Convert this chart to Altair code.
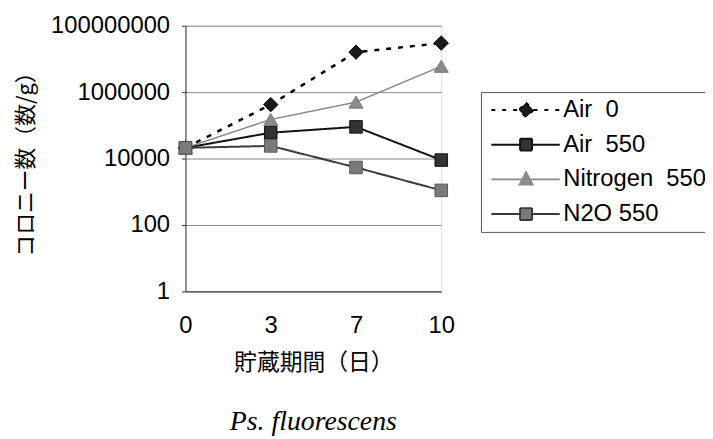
import altair as alt
import pandas as pd

# ---- data ----
days = ["0", "3", "7", "10"]
series = ["Air\u00a0\u00a00", "Air\u00a0\u00a0550", "Nitrogen\u00a0\u00a0550", "N2O 550"]
air0 = [21000, 420000, 16000000, 30000000]
air550 = [21000, 60000, 90000, 9000]
nitrogen550 = [21000, 150000, 500000, 6000000]
n2o550 = [21000, 24000, 5400, 1100]
y_ticks = [1, 100, 10000, 1000000, 100000000]

rows = []
for name, vals in zip(series, [air0, air550, nitrogen550, n2o550]):
    for d, v in zip(days, vals):
        rows.append({"day": d, "count": v, "series": name})
df = pd.DataFrame(rows)

# ---- styles ----
line_colors = ["#000000", "#111111", "#8a8a8a", "#3a3a3a"]
fill_colors = ["#1a1a1a", "#333333", "#8a8a8a", "#7a7a7a"]
marker_strokes = ["#000000", "#111111", "#7a7a7a", "#555555"]
chart_dashes = [[5, 7], [1, 0], [1, 0], [1, 0]]
legend_dashes = [[4, 7], [1, 0], [1, 0], [1, 0]]
line_widths = [2.5, 2, 1.5, 2]
shapes = ["diamond", "square", "triangle-up", "square"]
marker_sizes = [210, 160, 200, 160]
# legend symbols: line + marker, drawn in symbol units (1 unit = 7.5 px)
legend_paths = [
    "M-1,0H2.67M4.67,0H8.2M3.67,-1L4.67,0L3.67,1L2.67,0Z",
    "M-1,0H2.87M4.47,0H8.2M2.87,-0.8H4.47V0.8H2.87Z",
    "M-1,0H3.17M4.17,0H8.2M3.67,-0.95L4.54,0.7H2.8Z",
    "M-1,0H2.87M4.47,0H8.2M2.87,-0.8H4.47V0.8H2.87Z",
]

LATIN = "Liberation Sans"
CJK = "Noto Sans CJK JP"

x_enc = alt.X(
    "day:O",
    sort=days,
    scale=alt.Scale(type="point", padding=0),
    title="貯蔵期間（日）",
    axis=alt.Axis(
        labelAngle=0,
        labelFont=LATIN,
        labelFontSize=24,
        labelColor="#000",
        labelPadding=22,
        ticks=False,
        domainColor="#333",
        grid=False,
        titleFont=CJK,
        titleFontSize=23,
        titleFontWeight="normal",
        titleColor="#000",
        titlePadding=15,
    ),
)
y_enc = alt.Y(
    "count:Q",
    scale=alt.Scale(type="log", domain=[1, 100000000]),
    title="コロニー数（数/g）",
    axis=alt.Axis(
        values=y_ticks,
        format="d",
        labelFont=LATIN,
        labelFontSize=24,
        labelColor="#000",
        labelPadding=12,
        tickSize=4,
        tickColor="#333",
        domainColor="#333",
        grid=True,
        gridColor="#8a8a8a",
        gridWidth=1,
        titleFont=CJK,
        titleFontSize=22,
        titleFontWeight="normal",
        titleColor="#000",
        titlePadding=13,
    ),
)

layers = []
for i, name in enumerate(series):
    sub = alt.Chart(df).transform_filter(alt.datum.series == name)
    layers.append(
        sub.mark_line(
            color=line_colors[i], strokeWidth=line_widths[i], strokeDash=chart_dashes[i]
        ).encode(x=x_enc, y=y_enc)
    )
    layers.append(
        sub.mark_point(
            shape=shapes[i],
            size=marker_sizes[i],
            filled=True,
            fill=fill_colors[i],
            stroke=marker_strokes[i],
            strokeWidth=1,
            opacity=1,
        ).encode(x=x_enc, y=y_enc)
    )

leg = alt.Legend(
    title=None,
    orient="none",
    legendX=298,
    legendY=67,
    padding=6,
    strokeColor="#555",
    labelFont=LATIN,
    labelFontSize=24,
    labelColor="#000",
    labelOffset=53,
    rowPadding=11,
    symbolSize=225,
    symbolStrokeWidth=2,
)
legend_layer = (
    alt.Chart(df)
    .transform_filter("false")
    .mark_point(filled=True, opacity=1, size=225, strokeWidth=2)
    .encode(
        x=x_enc,
        y=y_enc,
        shape=alt.Shape("series:N", scale=alt.Scale(domain=series, range=legend_paths), legend=leg),
        fill=alt.Fill("series:N", scale=alt.Scale(domain=series, range=fill_colors), legend=leg),
        stroke=alt.Stroke("series:N", scale=alt.Scale(domain=series, range=line_colors), legend=leg),
        strokeDash=alt.StrokeDash("series:N", scale=alt.Scale(domain=series, range=legend_dashes), legend=leg),
    )
)
layers.append(legend_layer)

chart = (
    alt.layer(*layers)
    .properties(
        width=258,
        height=268,
        autosize=alt.AutoSizeParams(type="none"),
        padding={"left": 179, "top": 16, "right": 266, "bottom": 145},
        title=alt.TitleParams(
            "Ps. fluorescens",
            orient="bottom",
            anchor="middle",
            font="Liberation Serif",
            fontStyle="italic",
            fontWeight="normal",
            fontSize=28,
            color="#000",
            offset=34,
        ),
    )
    .configure_view(stroke=None)
    .configure(background="white")
)

chart.save("out.html", embed_options={"renderer": "svg", "actions": False})
